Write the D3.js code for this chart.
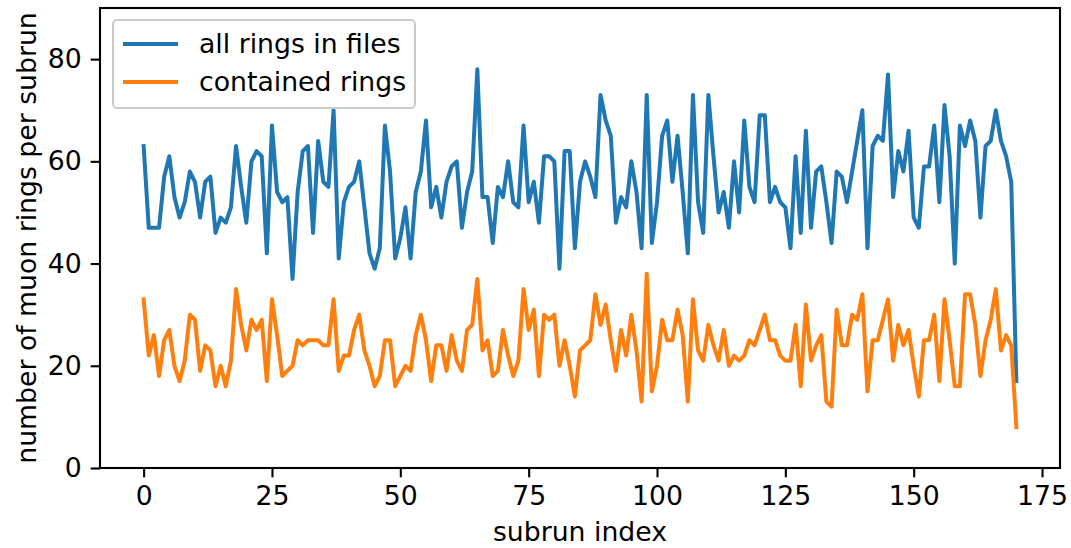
<!DOCTYPE html>
<html>
<head>
<meta charset="utf-8">
<script src="https://cdn.jsdelivr.net/npm/d3@7"></script>
<style>
  body { margin: 0; background: #fff; }
  text { font-family: "DejaVu Sans", sans-serif; }
</style>
</head>
<body>
<div class="chart"></div>
<script>
// values, one per subrun (index 0..170)
const allRings = [
  63, 47, 47, 47, 57, 61, 53, 49, 52, 58,
  56, 49, 56, 57, 46, 49, 48, 51, 63, 55,
  48, 60, 62, 61, 42, 67, 54, 52, 53, 37,
  54, 62, 63, 46, 64, 56, 55, 70, 41, 52,
  55, 56, 60, 51, 42, 39, 43, 67, 58, 41,
  45, 51, 41, 54, 58, 68, 51, 55, 49, 56,
  59, 60, 47, 54, 58, 78, 53, 53, 44, 55,
  53, 60, 52, 51, 67, 52, 56, 48, 61, 61,
  60, 39, 62, 62, 43, 56, 60, 57, 53, 73,
  68, 65, 48, 53, 51, 60, 54, 43, 73, 44,
  52, 65, 68, 56, 65, 54, 42, 73, 52, 46,
  73, 61, 50, 54, 47, 60, 50, 68, 55, 52,
  69, 69, 52, 55, 52, 51, 43, 61, 46, 66,
  47, 58, 59, 52, 44, 58, 57, 52, 58, 64,
  70, 43, 63, 65, 64, 77, 53, 62, 58, 66,
  49, 47, 59, 59, 67, 52, 71, 61, 40, 67,
  63, 68, 64, 49, 63, 64, 70, 64, 61, 56,
  17
];
const containedRings = [
  33, 22, 26, 18, 25, 27, 20, 17, 21, 30,
  29, 19, 24, 23, 16, 20, 16, 21, 35, 28,
  23, 29, 27, 29, 17, 33, 26, 18, 19, 20,
  25, 24, 25, 25, 25, 24, 24, 33, 19, 22,
  22, 27, 30, 23, 20, 16, 18, 25, 25, 16,
  18, 20, 19, 26, 30, 25, 17, 24, 24, 19,
  26, 21, 19, 27, 28, 37, 23, 25, 18, 19,
  27, 22, 18, 21, 35, 27, 31, 18, 30, 29,
  30, 20, 25, 20, 14, 23, 24, 25, 34, 28,
  32, 25, 19, 27, 22, 30, 23, 13, 38, 15,
  20, 29, 25, 25, 31, 26, 13, 33, 23, 21,
  28, 24, 21, 27, 20, 22, 21, 22, 25, 24,
  27, 30, 25, 25, 22, 21, 21, 28, 16, 32,
  21, 24, 26, 13, 12, 31, 24, 24, 30, 29,
  34, 15, 25, 25, 29, 33, 21, 28, 24, 27,
  20, 14, 25, 25, 30, 17, 33, 25, 16, 16,
  34, 34, 28, 18, 25, 29, 35, 23, 26, 24,
  8
];
const seriesNames = ["all rings in files", "contained rings"];
const xTicks = [0, 25, 50, 75, 100, 125, 150, 175];
const yTicks = [0, 20, 40, 60, 80];

const width = 1071, height = 548;
const margin = { top: 8, right: 11, bottom: 80, left: 100 };
const colors = ["#1f77b4", "#ff7f0e"];
const fontSize = "26.7px";

const svg = d3.select(".chart")
  .append("svg")
  .attr("width", width)
  .attr("height", height);

const n = allRings.length;
const pad = (n - 1) * 0.05;
const x = d3.scaleLinear()
  .domain([-pad, n - 1 + pad])
  .range([margin.left, width - margin.right]);
const y = d3.scaleLinear()
  .domain([0, 90])
  .range([height - margin.bottom, margin.top]);

// axes
const xAxis = svg.append("g")
  .attr("transform", "translate(0," + (height - margin.bottom) + ")")
  .call(d3.axisBottom(x).tickValues(xTicks).tickSize(9.3).tickPadding(9));
const yAxis = svg.append("g")
  .attr("transform", "translate(" + margin.left + ",0)")
  .call(d3.axisLeft(y).tickValues(yTicks).tickSize(9.3).tickPadding(9));

[xAxis, yAxis].forEach(a => {
  a.select(".domain").remove();
  a.selectAll(".tick line").attr("stroke", "#000").attr("stroke-width", 2.1);
  a.selectAll(".tick text")
    .attr("fill", "#000")
    .style("font-size", fontSize)
    .style("font-family", "'DejaVu Sans', sans-serif");
});

// lines
const line = d3.line()
  .x((d, i) => x(i))
  .y(d => y(d));

[allRings, containedRings].forEach((series, k) => {
  svg.append("path")
    .datum(series)
    .attr("fill", "none")
    .attr("stroke", colors[k])
    .attr("stroke-width", 4)
    .attr("stroke-linejoin", "round")
    .attr("stroke-linecap", "square")
    .attr("d", line);
});

// frame
svg.append("rect")
  .attr("x", margin.left)
  .attr("y", margin.top)
  .attr("width", width - margin.left - margin.right)
  .attr("height", height - margin.top - margin.bottom)
  .attr("fill", "none")
  .attr("stroke", "#000")
  .attr("stroke-width", 2.1);

// axis labels
svg.append("text")
  .attr("x", (margin.left + width - margin.right) / 2)
  .attr("y", 541)
  .attr("text-anchor", "middle")
  .style("font-size", fontSize)
  .text("subrun index");

svg.append("text")
  .attr("transform", "translate(36," + (margin.top + height - margin.bottom) / 2 + ") rotate(-90)")
  .attr("text-anchor", "middle")
  .style("font-size", fontSize)
  .text("number of muon rings per subrun");

// legend
const legend = svg.append("g")
  .attr("transform", "translate(" + (margin.left + 13) + "," + (margin.top + 12) + ")");

legend.append("rect")
  .attr("width", 302)
  .attr("height", 88)
  .attr("rx", 4)
  .attr("fill", "#fff")
  .attr("fill-opacity", 0.8)
  .attr("stroke", "#ccc")
  .attr("stroke-width", 2);

const items = legend.selectAll(".legends")
  .data(seriesNames)
  .enter()
  .append("g")
  .attr("class", "legends")
  .attr("transform", (d, i) => "translate(0," + (24 + i * 38) + ")");

items.append("line")
  .attr("x1", 10)
  .attr("x2", 65)
  .attr("stroke", (d, i) => colors[i])
  .attr("stroke-width", 4);

items.append("text")
  .attr("x", 86)
  .attr("y", 9)
  .style("font-size", fontSize)
  .text(d => d);
</script>
</body>
</html>
